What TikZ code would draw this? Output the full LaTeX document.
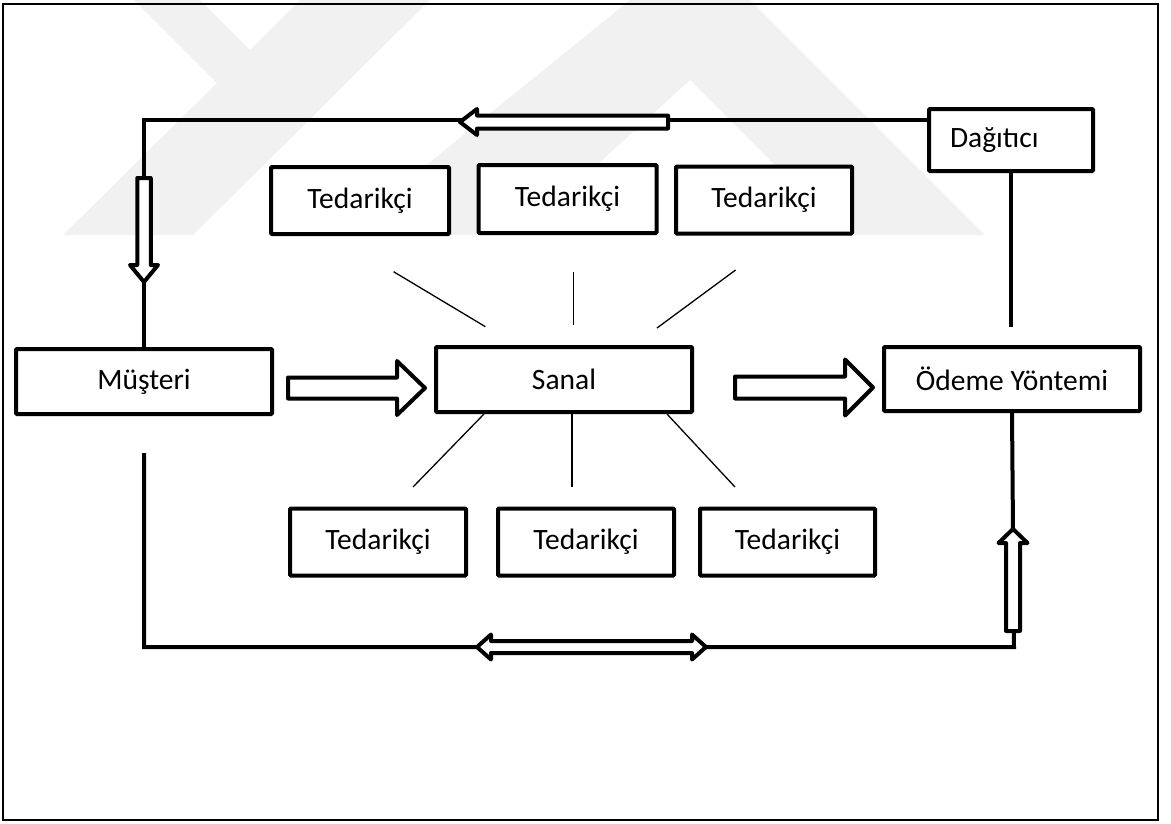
\documentclass[tikz,border=0pt]{standalone}
\usepackage{fontspec}
\setmainfont{Carlito}
\begin{document}
\begin{tikzpicture}[x=1pt,y=-1pt,
  box/.style={draw, line width=4pt, fill=white, inner sep=0pt, rounded corners=1pt,
    font=\fontsize{29.5}{32}\selectfont},
  sup/.style={box, minimum width=178pt, minimum height=67pt},
  conn/.style={draw, line width=4pt},
  thin/.style={draw, line width=1.3pt},
  hollow/.style={draw, fill=white, line width=4pt, line join=round},
  wm/.style={fill={rgb,255:red,241;green,241;blue,241}},
  pics/harrow/.style n args={4}{code={
    \path[hollow] (0,-#2) -- ({#1-#4},-#2) -- ({#1-#4},-#3) -- (#1,0)
      -- ({#1-#4},#3) -- ({#1-#4},#2) -- (0,#2) -- cycle;}},
  pics/dharrow/.style n args={4}{code={
    \path[hollow] (0,0) -- (#4,-#3) -- (#4,-#2) -- ({#1-#4},-#2) -- ({#1-#4},-#3)
      -- (#1,0) -- ({#1-#4},#3) -- ({#1-#4},#2) -- (#4,#2) -- (#4,#3) -- cycle;}}
]
\useasboundingbox (0,0) rectangle (1171,823);
% watermark
\fill[wm] (134,0) -- (200,0) -- (250,50) -- (300,0) -- (430,0) -- (193,235)
  -- (63,235) -- (217,83) -- cycle;
\fill[wm,even odd rule] (630,0) -- (750,0) -- (985,235) -- (340,235) -- cycle
  (690,80) -- (845,235) -- (520,235) -- cycle;
% frame
\draw[line width=2pt] (3,4) rectangle (1158,820);

% main boxes
\node[box, minimum width=256pt, minimum height=65pt] (mus) at (144,381.5) {Müşteri};
\node[box, minimum width=256pt, minimum height=65pt] (san) at (564,379.5) {Sanal};
\node[box, minimum width=256pt, minimum height=64pt] (ode) at (1012,379) {Ödeme Yöntemi};
\node[box, text width=122pt, inner xsep=21pt, align=left, minimum height=62pt] (dag) at (1011,140) {Dağıtıcı};

% suppliers
\node[sup] (t1) at (360,200.5) {Tedarikçi};
\node[sup, minimum height=68pt] (t2) at (567.5,199) {Tedarikçi};
\node[sup, minimum width=176pt] (t3) at (764,200) {Tedarikçi};
\node[sup, minimum width=176pt] (t4) at (378,542) {Tedarikçi};
\node[sup, minimum width=176pt] (t5) at (586,542) {Tedarikçi};
\node[sup, minimum width=175pt] (t6) at (787.5,542) {Tedarikçi};

% outer connectors
\coordinate (tl) at (144,120);
\draw[conn] (tl -| dag.west) -- (tl) -- (mus.north);
\coordinate (dagend) at (1011,327);
\draw[conn] (dag.south) -- (dagend);
\coordinate (br) at (1014,647);
\coordinate (bl) at (144,647);
\coordinate (lend) at (144,453);
\draw[conn] (ode.south) -- (br) -- (bl) -- (lend);

% thin spokes
\coordinate (a1) at (393.6,271.7); \coordinate (b1) at (485.4,326.7);
\coordinate (a2) at (573.6,271.7); \coordinate (b2) at (573.6,325);
\coordinate (a3) at (735.6,270);   \coordinate (b3) at (657,328);
\draw[thin] (a1) -- (b1);
\draw[thin] (a2) -- (b2);
\draw[thin] (a3) -- (b3);
\coordinate (c4) at (413,487); \coordinate (c5) at (572,487); \coordinate (c6) at (735,487);
\draw[thin] (san.south -| 484,0) -- (c4);
\draw[thin] (san.south -| c5) -- (c5);
\draw[thin] (san.south -| 667,0) -- (c6);

% hollow arrows
\pic[rotate=180] at (668,122) {harrow={208}{6.5}{13}{17}};
\pic[rotate=-90] at (144,178) {harrow={104}{6.75}{14}{17}};
\pic at (288,388) {harrow={137}{10.5}{27}{28}};
\pic at (735,387.5) {harrow={138}{11}{28}{28}};
\pic[rotate=90] at (1013,631) {harrow={102}{7}{14.5}{14}};
\pic at (477,647) {dharrow={229}{6}{12.5}{14}};
\end{tikzpicture}
\end{document}
